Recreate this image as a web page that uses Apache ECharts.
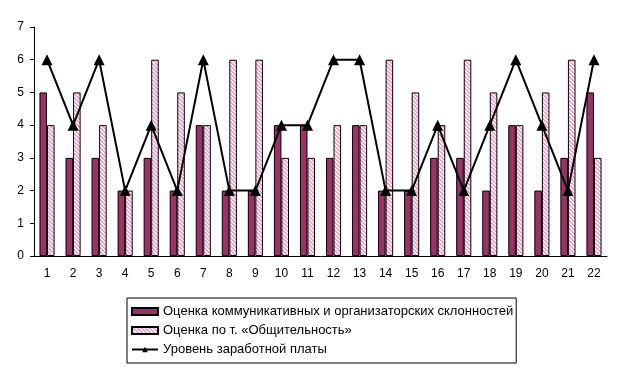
<!DOCTYPE html>
<html><head><meta charset="utf-8">
<script src="https://cdn.jsdelivr.net/npm/echarts@6/dist/echarts.min.js"></script>
<style>html,body{margin:0;padding:0;background:#fff}#c{width:622px;height:373px}</style>
</head><body><div id="c"></div>
<script>
const categories = ['1','2','3','4','5','6','7','8','9','10','11','12','13','14','15','16','17','18','19','20','21','22'];
const commSkills = [5,3,3,2,3,2,4,2,2,4,4,3,4,2,2,3,3,2,4,2,3,5];
const sociability = [4,5,4,2,6,5,4,6,6,3,3,4,4,6,5,4,6,5,4,5,6,3];
const salaryLevel = [6,4,6,2,4,2,6,2,2,4,4,6,6,2,2,4,2,4,6,4,2,6];
const seriesNames = ['Оценка коммуникативных и организаторских склонностей','Оценка по т. «Общительность»','Уровень заработной платы'];

function stripes(){
  const c = document.createElement('canvas');
  c.width = 4; c.height = 4;
  const g = c.getContext('2d');
  g.fillStyle = '#ffffff'; g.fillRect(0,0,4,4);
  g.fillStyle = '#ff99cc';
  for (let i=0;i<4;i++){ g.fillRect(i,i,1,1); g.fillRect((i+1)%4,i,1,1); }
  return c;
}
const chart = echarts.init(document.getElementById('c'), null, {renderer:'canvas'});
const font = 'Arial, "Liberation Sans", sans-serif';
chart.setOption({
  animation:false,
  textStyle:{fontFamily:font},
  grid:{left:34,right:15,top:27,bottom:117},
  xAxis:{type:'category',data:categories,
    axisLine:{lineStyle:{color:'#000',width:1}},
    axisTick:{length:5,lineStyle:{color:'#000'}},
    axisLabel:{color:'#000',fontSize:12,margin:12,fontFamily:font}},
  yAxis:{type:'value',min:0,max:7,interval:1,
    axisLine:{show:true,lineStyle:{color:'#000'}},
    axisTick:{show:true,length:4,lineStyle:{color:'#000'}},
    splitLine:{show:false},
    axisLabel:{color:'#000',fontSize:12,margin:10,fontFamily:font}},
  legend:{orient:'vertical',left:127,top:298,
    borderColor:'#000',borderWidth:1,padding:[6,3,6,4],itemGap:4,
    itemWidth:26,itemHeight:7,itemTextGap:6,
    textStyle:{color:'#000',fontSize:13,fontFamily:font,lineHeight:15},
    data:[{name:seriesNames[0],icon:'rect'},{name:seriesNames[1],icon:'rect'},{name:seriesNames[2]}]},
  series:[
    {name:seriesNames[0],type:'bar',data:commSkills,barGap:'0%',barCategoryGap:'42%',
     itemStyle:{color:'#993366',borderColor:'#000',borderWidth:1}},
    {name:seriesNames[1],type:'bar',data:sociability,barGap:'0%',barCategoryGap:'42%',
     itemStyle:{color:{image:stripes(),repeat:'repeat'},borderColor:'#000',borderWidth:1}},
    {name:seriesNames[2],type:'line',data:salaryLevel,symbol:'triangle',symbolSize:11,
     lineStyle:{color:'#000',width:2},itemStyle:{color:'#000'},z:5}
  ]
});
</script></body></html>
